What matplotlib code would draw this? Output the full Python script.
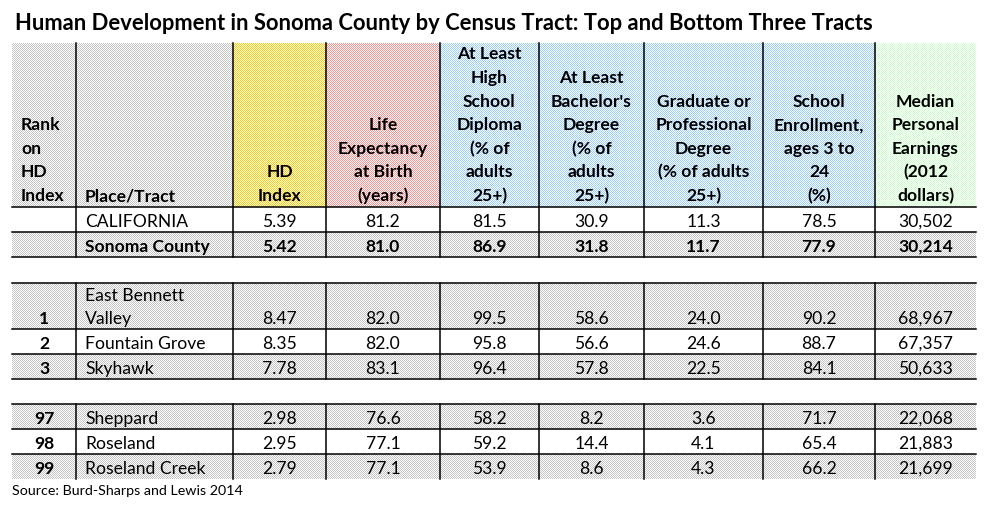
import numpy as np
import matplotlib
matplotlib.use("Agg")
import matplotlib.pyplot as plt

# ---- table contents ----
title = "Human Development in Sonoma County by Census Tract: Top and Bottom Three Tracts"
source = "Source: Burd-Sharps and Lewis 2014"

headers = ["Rank\non\nHD\nIndex", "Place/Tract", "HD\nIndex",
           "Life\nExpectancy\nat Birth\n(years)",
           "At Least\nHigh\nSchool\nDiploma\n(% of\nadults\n25+)",
           "At Least\nBachelor's\nDegree\n(% of\nadults\n25+)",
           "Graduate or\nProfessional\nDegree\n(% of adults\n25+)",
           "School\nEnrollment,\nages 3 to\n24\n(%)",
           "Median\nPersonal\nEarnings\n(2012\ndollars)"]

ranks = ["", "", "1", "2", "3", "97", "98", "99"]
places = ["CALIFORNIA", "Sonoma County", "East Bennett\nValley", "Fountain Grove",
          "Skyhawk", "Sheppard", "Roseland", "Roseland Creek"]
hd_index = [5.39, 5.42, 8.47, 8.35, 7.78, 2.98, 2.95, 2.79]
life_exp = [81.2, 81.0, 82.0, 82.0, 83.1, 76.6, 77.1, 77.1]
high_school = [81.5, 86.9, 99.5, 95.8, 96.4, 58.2, 59.2, 53.9]
bachelors = [30.9, 31.8, 58.6, 56.6, 57.8, 8.2, 14.4, 8.6]
graduate = [11.3, 11.7, 24.0, 24.6, 22.5, 3.6, 4.1, 4.3]
enrollment = [78.5, 77.9, 90.2, 88.7, 84.1, 71.7, 65.4, 66.2]
earnings = [30502, 30214, 68967, 67357, 50633, 22068, 21883, 21699]

# ---- layout (pixels) ----
col_x = [12, 76, 233, 326, 440, 539, 644, 763, 875, 976]
head_top, head_bot = 43, 207
row_tops = [207, 232, 283, 329, 354, 404, 429, 454]
row_bots = [232, 257, 329, 354, 379, 429, 454, 479]
row_shaded = [False, True, True, False, True, True, False, True]
row_bold = [False, True, False, False, False, False, False, False]

head_colors = ["#c4c4c4", "#c4c4c4", "#ffcc00", "#ff9090", "#99ccff",
               "#99ccff", "#99ccff", "#99ccff", "#ccffcc"]
GRAY = "#c4c4c4"
FONT = "Lato"
FS = 12.6
LINE_H = 23.6

fig = plt.figure(figsize=(9.85, 5.21), dpi=100)
ax = fig.add_axes([0, 0, 1, 1])


def checker(x0, x1, y0, y1, color):
    w, h = int(round(x1 - x0)), int(round(y1 - y0))
    rgb = np.array(matplotlib.colors.to_rgb(color))
    img = np.ones((h, w, 3))
    mask = (np.add.outer(np.arange(h) + int(y0), np.arange(w) + int(x0)) % 2) == 0
    img[mask] = rgb
    ax.imshow(img, extent=(x0, x1, y1, y0), interpolation="nearest",
              aspect="auto", zorder=0)


# header fills
for c in range(9):
    checker(col_x[c], col_x[c + 1], head_top, head_bot, head_colors[c])

# body fills
for r in range(len(places)):
    if row_shaded[r]:
        x_start = col_x[1] if ranks[r] == "" and not row_bold[r] else col_x[0]
        checker(x_start, col_x[-1], row_tops[r], row_bots[r], GRAY)

# header text, bottom aligned
for c, h in enumerate(headers):
    lines = h.split("\n")
    n = len(lines)
    for i, line in enumerate(lines):
        y = head_bot - 6 - (n - 1 - i) * LINE_H
        if c < 2:
            ax.text(col_x[c] + 9, y, line, ha="left", va="baseline",
                    fontsize=FS, fontweight="bold", family=FONT)
        else:
            ax.text((col_x[c] + col_x[c + 1]) / 2, y, line, ha="center",
                    va="baseline", fontsize=FS, fontweight="bold", family=FONT)

# body text
columns = [hd_index, life_exp, high_school, bachelors, graduate, enrollment]
for r in range(len(places)):
    yb = row_bots[r] - 5
    wt = "bold" if row_bold[r] else "normal"
    ax.text((col_x[0] + col_x[1]) / 2, yb, ranks[r], ha="center", va="baseline",
            fontsize=FS, fontweight="bold", family=FONT)
    plines = places[r].split("\n")
    for i, line in enumerate(plines):
        ax.text(col_x[1] + 9, yb - (len(plines) - 1 - i) * 23, line, ha="left",
                va="baseline", fontsize=FS, fontweight=wt, family=FONT)
    for k, vals in enumerate(columns):
        fmt = "{:.2f}" if k == 0 else "{:.1f}"
        ax.text((col_x[k + 2] + col_x[k + 3]) / 2, yb, fmt.format(vals[r]),
                ha="center", va="baseline", fontsize=FS, fontweight=wt, family=FONT)
    ax.text((col_x[8] + col_x[9]) / 2, yb, "{:,}".format(earnings[r]),
            ha="center", va="baseline", fontsize=FS, fontweight=wt, family=FONT)

# grid lines
LW = 1.1
h_lines = [head_bot, 232, 257, 283, 329, 354, 379, 404, 429, 454]
for y in h_lines:
    ax.plot([col_x[0], col_x[-1]], [y, y], color="black", lw=LW, zorder=3)
segments = [(head_top, 257), (283, 379), (404, 479)]
for x in col_x[1:-1]:
    for y0, y1 in segments:
        ax.plot([x, x], [y0, y1], color="black", lw=LW, zorder=3)

ax.text(15, 30, title, ha="left", va="baseline", fontsize=15.8,
        fontweight="bold", family=FONT)
ax.text(12, 495, source, ha="left", va="baseline", fontsize=10.3, family=FONT)

ax.set_xlim(0, 985)
ax.set_ylim(521, 0)
ax.axis("off")
fig.savefig("out.png", dpi=100)
